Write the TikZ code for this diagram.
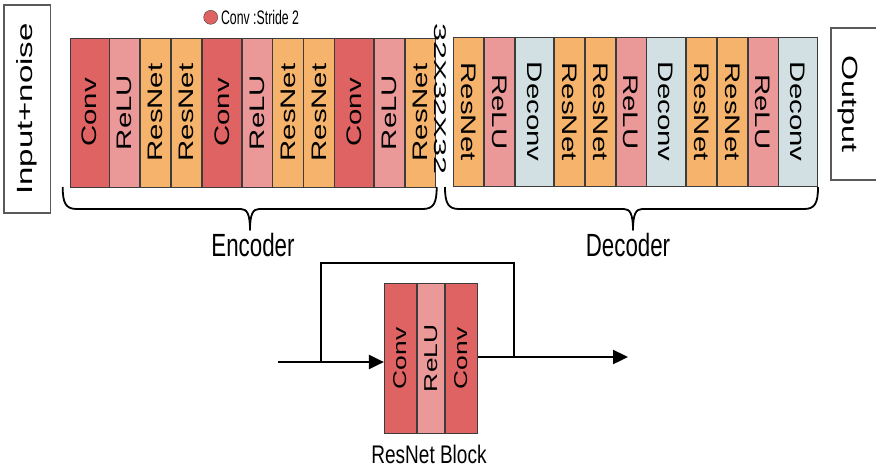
\documentclass[tikz,border=0pt]{standalone}
\usepackage{fontspec}
\setmainfont{Liberation Sans}
\usepackage{graphicx}
\usetikzlibrary{positioning,arrows.meta}

\definecolor{convred}{RGB}{224,99,99}
\definecolor{relupink}{RGB}{234,152,152}
\definecolor{resorange}{RGB}{245,179,108}
\definecolor{deconvblue}{RGB}{210,224,227}
\definecolor{edgegray}{RGB}{60,60,60}
\definecolor{boxgray}{RGB}{90,90,90}

% rotated / stretched text
\newcommand{\vup}[2][1.4]{\rotatebox{90}{\scalebox{#1}[1]{#2}}}
\newcommand{\vdown}[2][1.4]{\rotatebox{-90}{\scalebox{#1}[1]{#2}}}
\newcommand{\htall}[2][1.45]{\scalebox{1}[#1]{#2}}
% curly brace: left x, right x, tip x
\newcommand{\curly}[3]{%
  \draw[bracestroke] (#1,187) .. controls (#1,203) and ({#1+3},209) .. ({#1+14},209)
    -- ({#3-9},209) .. controls ({#3-3},209) and (#3,214) .. (#3,230)
    .. controls (#3,214) and ({#3+3},209) .. ({#3+9},209)
    -- ({#2-14},209) .. controls ({#2-3},209) and (#2,203) .. (#2,187);}

\begin{document}
\begin{tikzpicture}[x=1pt, y=-1pt, node distance=0pt,
    layer/.style = {draw=edgegray, line width=0.8pt, minimum height=149pt,
      inner sep=0pt, font=\fontsize{21}{21}\selectfont},
    conv/.style = {layer, fill=convred, minimum width=39pt},
    relu/.style = {layer, fill=relupink, minimum width=29.8pt},
    resnet/.style = {layer, fill=resorange, minimum width=30.2pt},
    deconv/.style = {layer, fill=deconvblue, minimum width=38.5pt},
    blk/.style = {draw=edgegray, line width=0.8pt, minimum height=150pt,
      inner sep=0pt, font=\fontsize{18.6}{18.6}\selectfont},
    iobox/.style = {draw=boxgray, line width=1.2pt, inner sep=0pt,
      font=\fontsize{22}{22}\selectfont},
    caption/.style = {inner sep=0pt, font=\fontsize{22.3}{22.3}\selectfont},
    bracestroke/.style = {line width=1.8pt, line join=round},
    link/.style = {line width=2.4pt}]
  \useasboundingbox (0,0) rectangle (876,472);

  % input / output
  \node[iobox, minimum width=46.7pt, minimum height=208pt] (inp) at (27.3,109) {\vup[1.5]{Input+noise}};
  \node[iobox, minimum width=50pt, minimum height=152pt] (outp) at (856,104) {\vdown[1.47]{Output}\hspace*{16pt}};

  % legend
  \node[circle, draw=edgegray, fill=convred, minimum size=14pt, inner sep=0pt] (dot) at (210.7,17.3) {};
  \node[right=3pt of dot, inner sep=0pt, font=\fontsize{12.3}{12.3}\selectfont] (legend) {\htall[1.59]{Conv :Stride 2}};

  % encoder
  \node[conv] (e1) at (89.5,112.5) {\vup{Conv}};
  \node[relu] (e2) [right=of e1] {\vup{ReLU}};
  \node[resnet] (e3) [right=of e2] {\vup{ResNet}};
  \node[resnet] (e4) [right=of e3] {\vup{ResNet}};
  \node[conv] (e5) [right=of e4] {\vup{Conv}};
  \node[relu] (e6) [right=of e5] {\vup{ReLU}};
  \node[resnet] (e7) [right=of e6] {\vup{ResNet}};
  \node[resnet] (e8) [right=of e7] {\vup{ResNet}};
  \node[conv] (e9) [right=of e8] {\vup{Conv}};
  \node[relu] (e10) [right=of e9] {\vup{ReLU}};
  \node[resnet] (e11) [right=of e10] {\vup{ResNet}};

  \node[inner sep=0pt, font=\fontsize{17}{17}\selectfont] (size) at (440,99) {\vdown[1.9]{32X32X32}};

  % decoder
  \node[resnet] (d1) at (468.4,111.7) {\vdown{ResNet}};
  \node[relu] (d2) [right=of d1] {\vdown{ReLU}};
  \node[deconv] (d3) [right=of d2] {\vdown{Deconv}};
  \node[resnet] (d4) [right=of d3] {\vdown{ResNet}};
  \node[resnet] (d5) [right=of d4] {\vdown{ResNet}};
  \node[relu] (d6) [right=of d5] {\vdown{ReLU}};
  \node[deconv] (d7) [right=of d6] {\vdown{Deconv}};
  \node[resnet] (d8) [right=of d7] {\vdown{ResNet}};
  \node[resnet] (d9) [right=of d8] {\vdown{ResNet}};
  \node[relu] (d10) [right=of d9] {\vdown{ReLU}};
  \node[deconv] (d11) [right=of d10] {\vdown{Deconv}};

  \curly{62.7}{436.7}{250}
  \curly{445}{818}{633}
  \node[caption] (enc) at (253,245) {\htall[1.44]{Encoder}};
  \node[caption] (dec) at (628,245) {\htall[1.44]{Decoder}};

  % resnet block
  \node[blk, fill=convred, minimum width=32.5pt] (rb1) at (400.55,358.3) {\vup[1.42]{Conv}};
  \node[blk, fill=relupink, minimum width=26.7pt] (rb2) [right=of rb1] {\vup[1.42]{ReLU}};
  \node[blk, fill=convred, minimum width=32.5pt] (rb3) [right=of rb2] {\vup[1.42]{Conv}};
  \node[inner sep=0pt, font=\fontsize{19}{19}\selectfont] (blocklbl) at (429,454) {\htall[1.34]{ResNet Block}};

  \coordinate (in) at (278,362);
  \coordinate (out) at (628,357);
  \coordinate (split) at (321,362);
  \coordinate (join) at (514,357);
  \draw[link, -{Triangle[length=15pt,width=14pt]}] (in) -- (in -| rb1.west);
  \draw[link, -{Triangle[length=15pt,width=14pt]}] (rb3.east |- out) -- (out);
  \draw[link] (split) -- ++(0,-99) -| (join);
\end{tikzpicture}
\end{document}
